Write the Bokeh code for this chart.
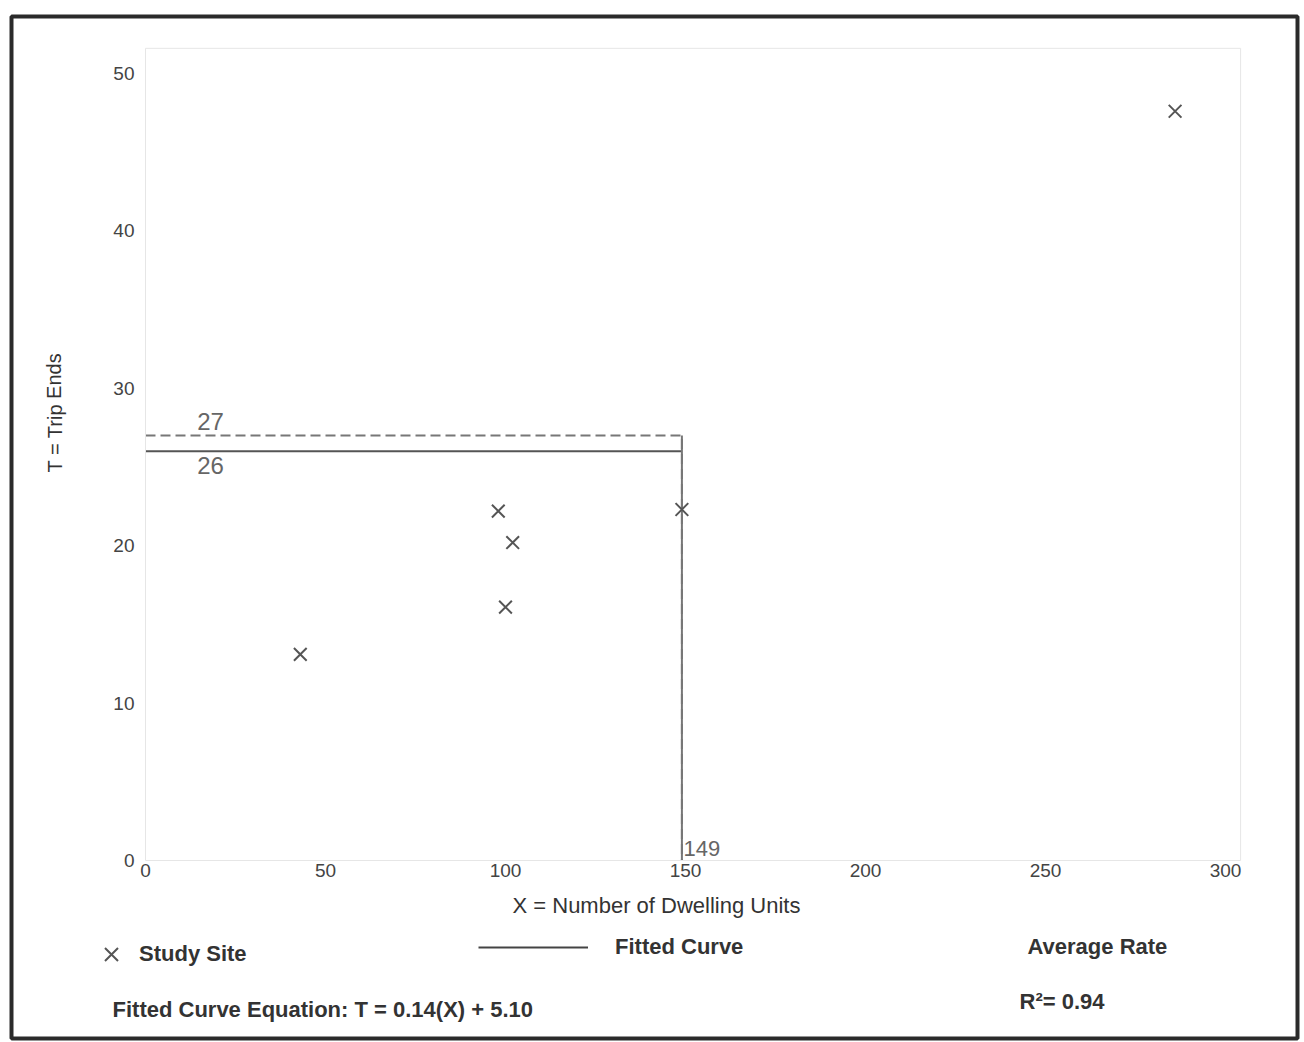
from bokeh.plotting import figure
from bokeh.models import Range1d, Label, Legend, LegendItem, BoxAnnotation
from bokeh.core.properties import value
from bokeh.embed import file_html
from bokeh.resources import INLINE

# ---- data ----
site_x = [286, 43, 98, 102, 100, 149]
site_t = [47.6, 13.1, 22.2, 20.2, 16.1, 22.3]
x_ticks = [0, 50, 100, 150, 200, 250, 300]
y_ticks = [0, 10, 20, 30, 40, 50]
x_max, y_max = 304.2, 51.6
check_x = 149          # dwelling units where the rates are read
fitted_t = 26          # fitted curve value at check_x
average_t = 27         # average rate value at check_x
equation_text = "Fitted Curve Equation: T = 0.14(X) + 5.10"
r2_text = "R\u00b2= 0.94"

FONT = "Liberation Sans"
TXT = "#333333"

W, H = 1304, 1042
X0, PXX = 145, 3.6      # pixel of x=0, pixels per dwelling unit
Y0, PXY = 860, 15.74    # pixel of T=0, pixels per trip end


def px2x(px):
    return (px - X0) / PXX


def py2y(py):
    return (Y0 - py) / PXY


p = figure(width=W, height=H, output_backend="svg", toolbar_location=None,
           x_range=Range1d(px2x(0), px2x(W)), y_range=Range1d(py2y(H), py2y(0)),
           min_border=0, x_axis_location=None, y_axis_location=None)
p.background_fill_color = "white"
p.border_fill_color = "white"
p.outline_line_color = None
p.xgrid.visible = False
p.ygrid.visible = False

# faint plot-area frame
p.add_layout(BoxAnnotation(left=0, right=x_max, bottom=0, top=y_max, fill_alpha=0,
                           line_color="#e6e6e6", line_alpha=1.0, line_width=1))

# tick labels
p.text(x=x_ticks, y=[0] * len(x_ticks), text=[str(v) for v in x_ticks],
       text_font=value(FONT), text_font_size="19px", text_color="#444444",
       text_align="center", text_baseline="top", y_offset=3)
p.text(x=[0] * len(y_ticks), y=y_ticks, text=[str(v) for v in y_ticks],
       text_font=value(FONT), text_font_size="19px", text_color="#444444",
       text_align="right", text_baseline="middle", x_offset=-11)

# reference lines
p.line([0, check_x], [fitted_t, fitted_t], line_color="#555555", line_width=2)
p.line([0, check_x, check_x], [average_t, average_t, 0], line_color="#777777",
       line_width=2, line_dash="10 5")
p.line([check_x, check_x], [average_t, 0], line_color="#777777", line_width=2)

pts = p.scatter(site_x, site_t, marker="x", size=18, line_color="#555555", line_width=2)
fit_legend_line = p.line([0, check_x], [fitted_t, fitted_t], line_color="#444444",
                         line_width=2, visible=False)


def lab(text, px, py, size, bold=False, color=TXT, align="left", angle=0.0):
    p.add_layout(Label(x=px2x(px), y=py2y(py), text=text, text_font=FONT,
                       text_font_size=size, text_font_style="bold" if bold else "normal",
                       text_color=color, text_align=align, text_baseline="middle",
                       angle=angle))


lab(str(average_t), 210, 421, "24px", color="#666666", align="center")
lab(str(fitted_t), 210, 465, "24px", color="#666666", align="center")
lab(str(check_x), 683, 848, "22px", color="#666666")

lab("X = Number of Dwelling Units", 512, 905, "22px")
lab("T = Trip Ends", 54, 412, "20px", align="center", angle=1.5708)

lab("Average Rate", 1027, 946, "22px", bold=True)
lab(equation_text, 112, 1009, "22px", bold=True)
lab(r2_text, 1019, 1001, "22px", bold=True)

# legends (location in px from the bottom-left of the canvas)
leg1 = Legend(items=[LegendItem(label="Study Site", renderers=[pts])],
              location=(88, H - 977), glyph_width=46, glyph_height=46,
              label_standoff=5, padding=0, margin=0, border_line_color=None,
              background_fill_alpha=0, label_text_font=FONT,
              label_text_font_size="22px", label_text_font_style="bold",
              label_text_color=TXT)
leg2 = Legend(items=[LegendItem(label="Fitted Curve", renderers=[fit_legend_line])],
              location=(478, H - 960), glyph_width=110, glyph_height=20,
              label_standoff=27, padding=0, margin=0, border_line_color=None,
              background_fill_alpha=0, label_text_font=FONT,
              label_text_font_size="22px", label_text_font_style="bold",
              label_text_color=TXT)
p.add_layout(leg1, "center")
p.add_layout(leg2, "center")

# outer frame
p.add_layout(BoxAnnotation(left=px2x(11), right=px2x(1297), top=py2y(16), bottom=py2y(1038),
                           fill_alpha=0, line_color="#2a2a2a", line_alpha=1.0, line_width=4))

open("out.html", "w").write(file_html(p, INLINE))
